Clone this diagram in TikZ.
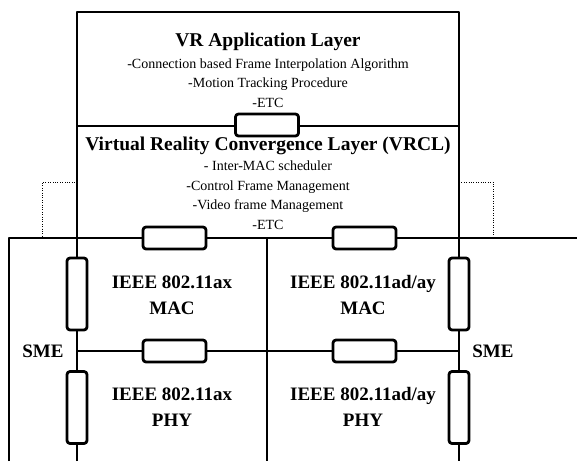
\documentclass[tikz,border=0pt]{standalone}
\usepackage{fontspec}
\setmainfont{Liberation Serif}
\usetikzlibrary{positioning}

\begin{document}
\begin{tikzpicture}[x=1pt, y=-1pt, line join=round,
  layer/.style={line width=2.8pt},
  sap/.style={draw, line width=2.8pt, fill=white, rounded corners=3pt,
    minimum width=63pt, minimum height=22pt, inner sep=0pt},
  vsap/.style={sap, minimum width=20pt, minimum height=72pt},
  title/.style={font=\bfseries\fontsize{19.5}{20}\selectfont, inner sep=0pt},
  item/.style={font=\fontsize{14}{19.5}\selectfont, align=center, inner sep=0pt},
  proto/.style={font=\bfseries\fontsize{19}{26}\selectfont, align=center, inner sep=0pt}]

\useasboundingbox (0,0) rectangle (577,461);

% layer borders
\draw[layer] (77,461) -- (77,12) -- (459,12) -- (459,461);
\draw[layer] (77,126) -- (459,126);
\draw[layer] (9,461) -- (9,238) -- (577,238);
\draw[layer] (267,238) -- (267,461);
\draw[layer] (77,351) -- (459,351);

% SME links
\draw[dotted, thin] (77,182) -- (42,182) -- (42,238);
\draw[dotted, thin] (459,182) -- (493,182) -- (493,238);

% service access points
\node[sap] (appsap) at (267,125) {};
\node[sap] (axmacsap) at (174.5,238) {};
\node[sap] (admacsap) at (364.5,238) {};
\node[sap] (axphysap) at (174.5,351) {};
\node[sap] (adphysap) at (364.5,351) {};
\node[vsap] (axmacsme) at (77,294) {};
\node[vsap] (axphysme) at (77,407.5) {};
\node[vsap] (admacsme) at (459,294) {};
\node[vsap] (adphysme) at (459,407.5) {};

% texts
\node[title] (app) at (268,42) {VR Application Layer};
\node[item] (appitems) at (268,83) {-Connection based Frame Interpolation Algorithm\\
  -Motion Tracking Procedure\\-ETC};
\node[title] (vrcl) at (268,146) {Virtual Reality Convergence Layer (VRCL)};
\node[item] (vrclitems) at (268,195) {- Inter-MAC scheduler\\-Control Frame Management\\
  -Video frame Management\\-ETC};

\node[proto] (axmac) at (172,295) {IEEE 802.11ax\\MAC};
\node[proto] (admac) at (363,295) {IEEE 802.11ad/ay\\MAC};
\node[proto] (axphy) at (172,407) {IEEE 802.11ax\\PHY};
\node[proto] (adphy) at (363,407) {IEEE 802.11ad/ay\\PHY};

\node[proto] (axsme) at (43,351) {SME};
\node[proto] (adsme) at (493,351) {SME};

\end{tikzpicture}
\end{document}
